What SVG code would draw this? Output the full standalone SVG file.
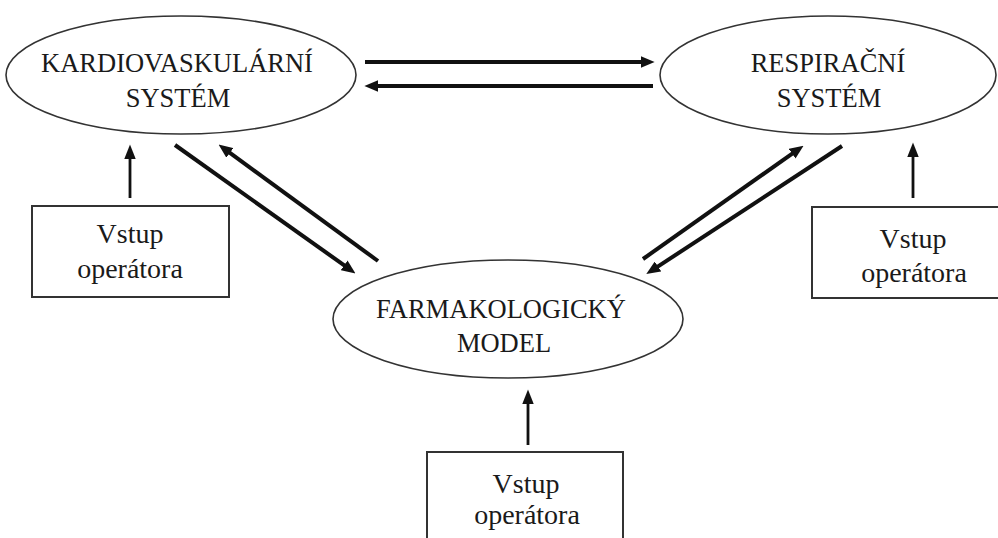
<svg xmlns="http://www.w3.org/2000/svg" width="998" height="538" viewBox="0 0 998 538">
<style>
.bg{fill:#fff}
.ell{fill:#fff;stroke:#333;stroke-width:1.6}
.box{fill:#fff;stroke:#333;stroke-width:2}
.t{font-family:"Liberation Serif","Times New Roman",serif;fill:#1a1a1a;text-anchor:middle}
.et{font-size:26.5px}
.bt{font-size:28px}
.thick{stroke:#111;stroke-width:4;fill:none;marker-end:url(#hk)}
.thin{stroke:#111;stroke-width:2.8;fill:none;marker-end:url(#hn)}
</style>
<defs>
<marker id="hk" markerUnits="userSpaceOnUse" markerWidth="14" markerHeight="12" viewBox="0 0 13 11" refX="5" refY="5.5" orient="auto">
<path d="M0,0 L13,5.5 L0,11 z" fill="#111"/>
</marker>
<marker id="hn" markerUnits="userSpaceOnUse" markerWidth="15" markerHeight="12" viewBox="0 0 14 11" refX="6" refY="5.5" orient="auto">
<path d="M0,0 L14,5.5 L0,11 z" fill="#111"/>
</marker>
</defs>
<rect class="bg" x="0" y="0" width="998" height="538"/>
<g id="connectors">
<line class="thick" x1="365" y1="62" x2="646" y2="62"/>
<line class="thick" x1="653" y1="86" x2="373" y2="86"/>
<line class="thick" x1="175" y1="145" x2="348.5" y2="268.4"/>
<line class="thick" x1="378" y1="261" x2="225.5" y2="149.7"/>
<line class="thick" x1="643" y1="259" x2="796.5" y2="150.6"/>
<line class="thick" x1="842" y1="146" x2="653.5" y2="269.4"/>
<line class="thin" x1="130" y1="198" x2="130" y2="153"/>
<line class="thin" x1="913" y1="198" x2="913" y2="151"/>
<line class="thin" x1="528" y1="445" x2="528" y2="398"/>
</g>
<g id="kardio">
<ellipse class="ell" cx="181" cy="75" rx="175" ry="59"/>
<text class="t et" x="177" y="72">KARDIOVASKULÁRNÍ</text>
<text class="t et" x="178" y="107">SYSTÉM</text>
</g>
<g id="respirace">
<ellipse class="ell" cx="828" cy="75" rx="168" ry="59"/>
<text class="t et" x="828" y="72">RESPIRAČNÍ</text>
<text class="t et" x="829" y="107">SYSTÉM</text>
</g>
<g id="farmako">
<ellipse class="ell" cx="508" cy="319" rx="175" ry="59"/>
<text class="t et" x="501" y="318">FARMAKOLOGICKÝ</text>
<text class="t et" x="504" y="352">MODEL</text>
</g>
<g id="vstup-left">
<rect class="box" x="32" y="206" width="197" height="91"/>
<text class="t bt" x="130" y="243">Vstup</text>
<text class="t bt" x="130" y="278">operátora</text>
</g>
<g id="vstup-right">
<rect class="box" x="812" y="207" width="190" height="91"/>
<text class="t bt" x="913" y="248">Vstup</text>
<text class="t bt" x="914" y="282">operátora</text>
</g>
<g id="vstup-bottom">
<rect class="box" x="427" y="452" width="196" height="100"/>
<text class="t bt" x="526" y="493">Vstup</text>
<text class="t bt" x="527" y="524">operátora</text>
</g>
</svg>
